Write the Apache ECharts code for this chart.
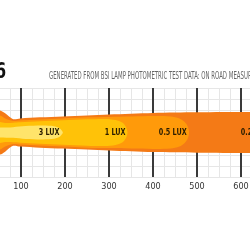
<!DOCTYPE html>
<html>
<head>
<meta charset="utf-8">
<style>
  html, body { margin: 0; padding: 0; background: #fff; }
  #chart { width: 250px; height: 250px; }
</style>
<script src="https://cdn.jsdelivr.net/npm/echarts@6/dist/echarts.min.js"></script>
</head>
<body>
<div id="chart"></div>
<script>
// 距离刻度 (m)
const distanceTicks = [100, 200, 300, 400, 500, 600]

// 光束轮廓: [距离, 半宽], 上沿, 下沿镜像
const zone025 = [[0, 49.5], [52, 49.5], [64, 43], [82, 30], [98, 31.5], [143, 34], [195, 36], [250, 38], [300, 40.5], [400, 44], [500, 45.5], [620, 46], [700, 46]]
const zone05 = [[0, 38], [52, 38], [64, 31.5], [82, 26], [98, 27], [143, 29], [195, 31.5], [250, 34], [300, 35], [400, 37], [440, 36], [460, 31.5], [472, 23.5], [479, 13.5], [482, 0]]
const zone1 = [[0, 23.5], [52, 23.5], [64, 21.5], [82, 22], [98, 23], [143, 25.5], [195, 27.5], [250, 29.5], [290, 30.5], [315, 28], [330, 22.5], [338, 13.5], [342, 0]]
const zone3 = [[0, 11], [52, 11], [82, 12], [110, 14.5], [150, 15.5], [175, 14], [187, 10], [193, 4], [195, 0]]

// 照度标签
const luxLabels = ['3 LUX', '1 LUX', '0.5 LUX', '0.25 LUX']
const labelDistance = [164, 314, 445, 636]

const zones = [zone025, zone05, zone1, zone3]
const zoneColors = ['#F47A16', '#FF9A0A', '#FFC208', '#FFE46A']

const fontNarrow = '"Liberation Sans Narrow", "DejaVu Sans Condensed", sans-serif'

const chart = echarts.init(document.getElementById('chart'))

// 画一个光束区域
const renderZone = (params, api) => {
  const pts = zones[params.dataIndex]
  const upper = pts.map(p => api.coord([p[0], p[1]]))
  const lower = pts.filter(p => p[1] > 0).reverse().map(p => api.coord([p[0], -p[1]]))
  return {
    type: 'polygon',
    shape: { points: upper.concat(lower), smooth: 0.3 },
    style: { fill: zoneColors[params.dataIndex] }
  }
}

// 照度文字 (窄体)
const renderLabel = (params, api) => {
  const pt = api.coord([api.value(0), api.value(1)])
  return {
    type: 'text',
    x: pt[0], y: pt[1], scaleX: 0.8,
    style: {
      text: luxLabels[params.dataIndex], align: 'center', verticalAlign: 'middle',
      fill: '#2a1d00', fontSize: 9, fontWeight: 'bold', fontFamily: fontNarrow
    }
  }
}

const option = {
  animation: false,
  grid: { left: -23, right: -17.4, top: 88, bottom: 73, containLabel: false, outerBoundsMode: 'none' },
  xAxis: [
    {
      type: 'value', min: 0, max: 660, interval: 25,
      axisLine: { show: false }, axisTick: { show: false }, axisLabel: { show: false },
      splitLine: { show: true, lineStyle: { color: '#e6e6e6', width: 1 } }
    },
    {
      type: 'value', min: 0, max: 660, interval: 100, position: 'bottom',
      axisLine: { show: false }, axisTick: { show: false },
      axisLabel: {
        color: '#333', fontSize: 9, fontFamily: fontNarrow, margin: 5,
        formatter: v => distanceTicks.includes(v) ? String(v) : ''
      },
      splitLine: { show: true, lineStyle: { color: '#3a3a3a', width: 2 } }
    }
  ],
  yAxis: {
    type: 'value', min: -100, max: 100, interval: 25,
    axisLine: { show: false }, axisTick: { show: false }, axisLabel: { show: false },
    splitLine: { show: true, lineStyle: { color: '#e6e6e6', width: 1 } }
  },
  graphic: [
    {
      type: 'text', x: -5, y: 72.5, scaleX: 0.85,
      style: { text: '6', fontSize: 21, fontWeight: 'bold', fontFamily: fontNarrow, fill: '#111', verticalAlign: 'middle' }
    },
    {
      type: 'text', x: 49, y: 76.5, scaleX: 0.6,
      style: {
        text: 'GENERATED FROM BSI LAMP PHOTOMETRIC TEST DATA: ON ROAD MEASUREMENTS',
        fontSize: 10, fontFamily: fontNarrow, fill: '#666', verticalAlign: 'middle'
      }
    }
  ],
  series: [
    {
      type: 'custom',
      xAxisIndex: 0,
      clip: true,
      renderItem: renderZone,
      data: zones.map((z, i) => [i, 0])
    },
    {
      type: 'custom',
      xAxisIndex: 0,
      renderItem: renderLabel,
      data: labelDistance.map(d => [d, 0])
    }
  ]
}

chart.setOption(option)
</script>
</body>
</html>
